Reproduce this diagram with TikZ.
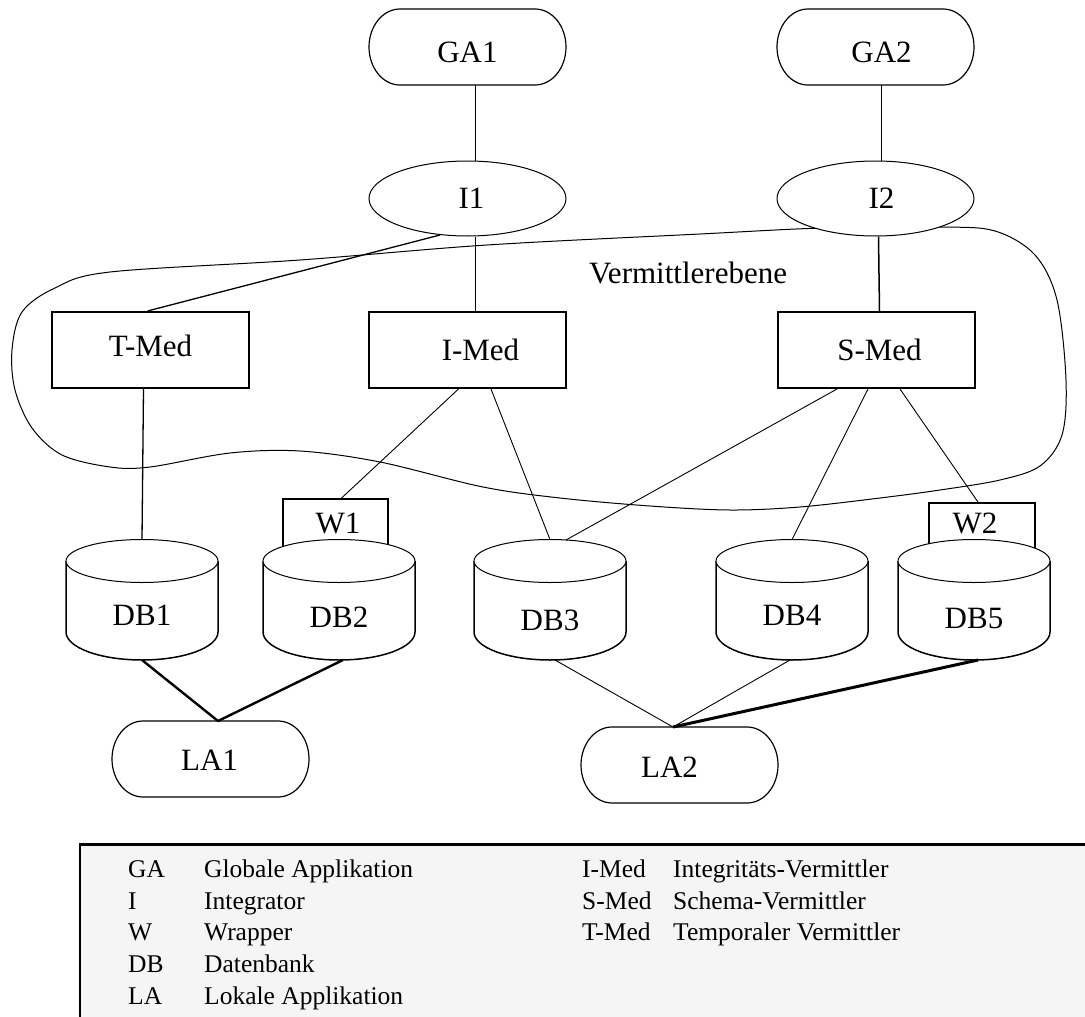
\documentclass[tikz,border=0pt]{standalone}
\usepackage{fontspec}
\setmainfont{Liberation Serif}
\usetikzlibrary{shapes.geometric}
\definecolor{legendbg}{HTML}{F5F5F5}
\newcommand\diagfont{\fontsize{31}{36}\selectfont}
\newcommand\legfont{\fontsize{25.5}{30}\selectfont}
\newcommand\offtext[3]{\raisebox{#2}[\height][\depth]{\hspace*{#1}#3\hspace*{-#1}}}
\newcommand\appoutline[1]{\draw[appline] ([xshift=31pt]#1.north west) -- ([xshift=-31pt]#1.north east) arc[start angle=90,end angle=-90,x radius=31pt,y radius=38pt] -- ([xshift=31pt]#1.south west) arc[start angle=270,end angle=90,x radius=31pt,y radius=38pt] -- cycle;}
\tikzset{
 appnode/.style={rectangle, minimum width=197pt, minimum height=76pt, inner sep=0pt, outer sep=0pt, font=\diagfont},
 appline/.style={line width=1.2pt},
 intnode/.style={ellipse, draw, line width=1pt, fill=white, minimum width=197pt, minimum height=75pt, inner sep=0pt, font=\diagfont},
 medbox/.style={rectangle, draw, line width=2pt, fill=white, minimum width=197pt, minimum height=76pt, inner sep=0pt, font=\diagfont},
 wrapbox/.style={rectangle, draw, line width=1.8pt, fill=white, inner sep=0pt, font=\diagfont},
 dbside/.style={line width=1.5pt},
 dbtop/.style={line width=1pt, fill=white},
 dbtext/.style={font=\diagfont, inner sep=0pt},
 midline/.style={line width=1.5pt},
 slimline/.style={line width=1.3pt},
 thinline/.style={line width=0.9pt},
 boldline/.style={line width=2.4pt},
 heavyline/.style={line width=3pt},
 regionline/.style={line width=1pt},
 legtext/.style={font=\legfont, anchor=base west, inner sep=0pt},
 regionlabel/.style={font=\diagfont, inner sep=0pt},
}
\begin{document}
\begin{tikzpicture}[x=1pt,y=-1pt]
\useasboundingbox (0,0) rectangle (1085,1017);
% legend background
\draw[line width=1.5pt, fill=legendbg] (80,844) rectangle (1100,1030);
\draw[line width=3pt] (80,844) -- (1100,844);
% region boundary
\draw[regionline] plot[smooth cycle, tension=0.55] coordinates {
 (110,272) (300,260) (487,245) (700,234) (823,228) (940,227) (995,231)
 (1035,255) (1057,300) (1066,380) (1062,435) (1040,466) (1000,480)
 (940,490) (880,498) (800,507) (730,510) (650,506) (560,498) (483,487)
 (380,462) (300,451) (230,453) (150,467) (110,467) (62,455) (32,428)
 (15,390) (12,350) (22,312) (55,288)};
\node[regionlabel] (verm) at (688,273) {Vermittlerebene};
% applications
\node[appnode] (ga1) at (467.5,47) {\offtext{0pt}{-5pt}{GA1}};
\node[appnode] (ga2) at (875.5,47) {\offtext{6pt}{-5pt}{GA2}};
\node[appnode] (la1) at (210.5,759) {\offtext{-1pt}{-1pt}{LA1}};
\node[appnode] (la2) at (679.5,765) {\offtext{-10pt}{-2pt}{LA2}};
\appoutline{ga1}
\appoutline{ga2}
\appoutline{la1}
\appoutline{la2}
% integrators
\node[intnode] (i1) at (467.5,198.5) {\offtext{4pt}{0pt}{I1}};
\node[intnode] (i2) at (875.5,198.5) {\offtext{6pt}{0pt}{I2}};
% mediators
\node[medbox] (tmed) at (150.5,350) {\offtext{0pt}{4pt}{T-Med}};
\node[medbox] (imed) at (467.5,350) {\offtext{13pt}{0pt}{I-Med}};
\node[medbox] (smed) at (876.5,350) {\offtext{3pt}{0pt}{S-Med}};
% wrappers
\node[wrapbox, minimum width=105pt, minimum height=52pt] (w1) at (335.5,525) {\offtext{2.5pt}{2pt}{W1}};
\node[wrapbox, minimum width=106pt, minimum height=50pt] (w2) at (982,528) {\offtext{-7pt}{5pt}{W2}};
% databases
\foreach \n/\cx/\ty in {1/142/615, 2/339/617, 3/550/620, 4/792/615, 5/974/618} {
  \draw[dbside] (\cx-76,561) -- (\cx-76,632) arc[start angle=180,end angle=360,x radius=76pt,y radius=28pt] -- (\cx+76,561);
  \draw[dbtop] (\cx,561) ellipse[x radius=76pt,y radius=21.5pt];
  \node[dbtext] (db\n) at (\cx,\ty) {DB\n};
  \coordinate (dbt\n) at (\cx,539.5);
  \coordinate (dbb\n) at (\cx,660);
}
% connectors
\draw[midline] ([xshift=8pt]ga1.south) -- ([xshift=8pt]i1.north);
\draw[midline] ([xshift=6pt]ga2.south) -- ([xshift=6pt]i2.north);
\draw[midline] ([xshift=8pt]i1.south) -- ([xshift=8pt]imed.north);
\draw[midline] ([xshift=3pt]i2.south) -- ([xshift=3pt]smed.north);
\draw[slimline] (i1.233) -- ([xshift=-3pt]tmed.north);
\draw[slimline] ([xshift=-7pt]tmed.south) -- (dbt1);
\draw[thinline] ([xshift=-9pt]imed.south) -- ([xshift=6pt]w1.north);
\draw[thinline] ([xshift=23.5pt]imed.south) -- (dbt3);
\draw[thinline] ([xshift=-39.5pt]smed.south) -- ([xshift=16pt,yshift=-0.5pt]dbt3);
\draw[thinline] ([xshift=-8.5pt]smed.south) -- (dbt4);
\draw[thinline] ([xshift=23.5pt]smed.south) -- ([xshift=-4pt]w2.north);
\draw[boldline] (dbb1) -- ([xshift=7.5pt]la1.north);
\draw[boldline] ([xshift=4pt]dbb2) -- ([xshift=7.5pt]la1.north);
\draw[thinline] ([xshift=5pt]dbb3) -- ([xshift=-6.5pt]la2.north);
\draw[thinline] ([xshift=-2pt]dbb4) -- ([xshift=-6.5pt]la2.north);
\draw[heavyline] ([xshift=4pt]dbb5) -- ([xshift=-6.5pt]la2.north);
% legend
\node[legtext] (lga) at (128,877) {GA};
\node[legtext] (lgad) at (204,877) {Globale Applikation};
\node[legtext] (li) at (128,909) {I};
\node[legtext] (lid) at (204,909) {Integrator};
\node[legtext] (lw) at (128,940) {W};
\node[legtext] (lwd) at (204,940) {Wrapper};
\node[legtext] (ldb) at (128,972) {DB};
\node[legtext] (ldbd) at (204,972) {Datenbank};
\node[legtext] (lla) at (128,1004) {LA};
\node[legtext] (llad) at (204,1004) {Lokale Applikation};
\node[legtext] (limed) at (582,877) {I-Med};
\node[legtext] (limedd) at (673,877) {Integritäts-Vermittler};
\node[legtext] (lsmed) at (582,909) {S-Med};
\node[legtext] (lsmedd) at (673,909) {Schema-Vermittler};
\node[legtext] (ltmed) at (582,940) {T-Med};
\node[legtext] (ltmedd) at (673,940) {Temporaler Vermittler};
\end{tikzpicture}
\end{document}
